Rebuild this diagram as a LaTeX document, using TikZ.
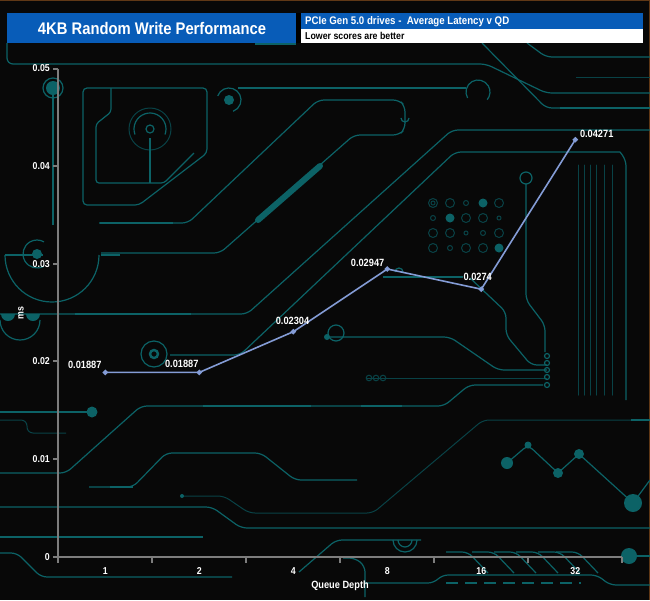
\documentclass[tikz,border=0pt]{standalone}
\usepackage{fontspec}
\setmainfont{Liberation Sans}[FakeStretch=0.88]
\usetikzlibrary{positioning,shapes.geometric}

\definecolor{boardblack}{RGB}{8,8,8}
\definecolor{tracecol}{RGB}{12,98,102}
\definecolor{tracedim}{RGB}{9,66,70}
\definecolor{titleblue}{RGB}{8,92,184}
\definecolor{axisgray}{RGB}{125,125,125}
\definecolor{lineblue}{RGB}{132,156,214}
\definecolor{framebrown}{RGB}{96,56,22}

\tikzset{
    pcb/.style={draw=tracecol, line width=1.2pt, rounded corners=6pt},
    pcbdim/.style={draw=tracedim, line width=1pt, rounded corners=6pt},
    pcbthick/.style={draw=tracecol, line width=2.6pt},
    axisline/.style={draw=axisgray, line width=2pt},
    ticklbl/.style={text=white, inner sep=0pt, font=\bfseries\fontsize{10}{12}\selectfont},
    datalbl/.style={text=white, inner sep=0pt, font=\bfseries\fontsize{10.5}{12}\selectfont},
    datapt/.style={diamond, fill=lineblue, inner sep=0pt, minimum size=6pt},
    seriesline/.style={draw=lineblue, line width=1.6pt}
}

\begin{document}
\begin{tikzpicture}[x=1pt, y=-1pt]
    \useasboundingbox (0,0) rectangle (650,600);
    \fill[boardblack] (0,0) rectangle (650,600);
    \draw[framebrown, line width=1pt] (0,0.5) -- (649.5,0.5) -- (649.5,600);

    % circuit board background
    \draw[pcb] (7,43) -- (7,64) -- (486,64) -- (546,93) -- (650,93);
    \draw[pcb] (482,43) -- (546,108) -- (650,108);
    \draw[pcbthick] (560,108) -- (650,108);
    \draw[pcb] (527,43) -- (546,57) -- (650,57);
    \draw[pcbdim] (576,77) -- (650,77);
    \draw[pcb] (255,44) -- (296,44);
    \draw[pcb, rounded corners=4pt] (83,88) -- (207,88) -- (207,153) -- (139,205) -- (83,205) -- cycle;
    \draw[pcb, rounded corners=3pt] (111,88) -- (111,112) -- (96,124) -- (96,183) -- (164,183) -- (194,153);
    \draw[pcb] (150,129) circle (4);
    \draw[pcb] (150,129) ++(160:16) arc (160:380:16);
    \draw[pcbdim] (150,129) circle (21);
    \draw[pcb] (150,138) -- (150,183);
    \fill[tracecol] (229,100) circle (5);
    \draw[pcb] (229,100) ++(200:12) arc (200:430:12);
    \draw[pcb] (238,88) -- (466,88);
    \draw[pcb] (478,92) ++(150:12) arc (150:400:12);
    \draw[pcb] (99,223) -- (188,223) -- (318,100) -- (399,100) -- (405,106) -- (405,129) -- (399,135) -- (354,135) -- (220,253) -- (101,253);
    \draw[pcb] (401,118) arc (180:0:4);
    \draw[pcbthick] (100,223) -- (173,223);
    \draw[tracecol, line width=6pt, line cap=round] (258,220) -- (320,166);
    \draw[pcb] (101,255) -- (120,255);
    \draw[pcb] (5,255) -- (43,255);
    \draw[pcb] (5,255) arc (180:0:47);
    \fill[tracecol] (37,254) circle (5);
    \draw[pcb] (37,254) ++(60:14) arc (60:300:14);
    \draw[pcb] (53,93) -- (53,225);
    \draw[pcbthick] (53,190) -- (53,225);
    \draw[pcb] (53,88) circle (10);
    \fill[tracecol] (53,88) circle (7);
    \draw[pcb] (650,130) -- (452,130) -- (247,314) -- (0,314);
    \draw[pcbthick] (75,314) -- (191,314);
    \fill[tracecol] (1,314) arc (180:0:7) -- cycle;
    \fill[tracecol] (26,314) arc (180:0:7) -- cycle;
    \draw[pcb] (0,320) arc (180:0:20);
    \draw[pcb] (620,152) -- (455,152) -- (240,355) -- (170,355);
    \draw[pcb] (154,354) circle (13);
    \draw[tracecol, line width=2.4pt] (154,354) circle (4);
    \draw[pcb] (620,152) -- (626,160) -- (626,400);
    \foreach \bx in {578,584,590,596,604,612}
        \draw[pcbdim, line cap=round] (\bx,165) -- (\bx,395);
    \draw[pcb] (526,178) circle (6);
    \draw[pcb] (526,184) -- (526,300) -- (545,325) -- (545,352);
    \draw[pcb] (470,278) -- (506,312) -- (506,335) -- (531,365) -- (547,365);
    \draw[pcbthick] (383,277) -- (463,277);
    \draw[pcb] (395,272) arc (180:360:4);
    \fill[tracecol] (327,337) circle (3);
    \draw[pcb] (336,333) circle (8);
    \draw[pcb] (327,337) -- (450,337) -- (498,370) -- (547,370);
    \draw[pcbdim] (367,378) -- (547,378);
    \foreach \cy in {356,363,370,377,385}
        \draw[pcb] (547,\cy) circle (2.5);
    \foreach \cx in {369,376,383}
        \draw[pcbdim] (\cx,378) circle (2.8);
    \foreach \cx/\cy in {433/203,450/203,499/203,466/218,483/218,433/233,450/233,499/233,433/248,466/248,483/248}
        \draw[pcbdim] (\cx,\cy) circle (4.5);
    \foreach \cx/\cy in {433/203,499/218,466/233}
        \draw[pcbdim] (\cx,\cy) circle (2);
    \foreach \cx/\cy in {466/203,433/218,483/233,450/248}
        \draw[pcbdim] (\cx,\cy) circle (2.5);
    \foreach \cx/\cy in {483/203,450/218,499/248}
        \fill[tracecol] (\cx,\cy) circle (4.5);
    \draw[pcb] (0,412) -- (92,412);
    \draw[pcbthick] (0,412) -- (33,412);
    \fill[tracecol] (92,412) circle (5.5);
    \draw[pcbdim] (0,420) -- (27,420) -- (27,433) -- (66,433);
    \draw[pcb] (0,473) -- (66,473) -- (141,406) -- (444,406) -- (469,385) -- (543,385);
    \draw[pcbthick] (203,406) -- (311,406);
    \draw[pcbthick] (361,406) -- (402,406);
    \draw[pcb] (89,487) -- (133,487) -- (166,453) -- (261,453) -- (295,480) -- (357,480);
    \draw[pcbthick] (110,487) -- (133,487);
    \draw[pcb] (0,507) -- (212,507) -- (241,528) -- (650,528);
    \draw[pcbdim] (182,496) -- (224,496) -- (249,513) -- (373,513) -- (483,420) -- (650,420);
    \fill[tracecol] (182,496) circle (2);
    \draw[pcbthick] (631,420) -- (650,420);
    \draw[pcb] (0,537) -- (203,537);
    \draw[pcbthick] (0,537) -- (120,537);
    \draw[pcb] (507,463) -- (528,445) -- (558,473) -- (579,454) -- (633,503) -- (650,480);
    \fill[tracecol] (507,463) circle (6);
    \fill[tracecol] (528,445) circle (3.5);
    \fill[tracecol] (558,473) circle (5);
    \fill[tracecol] (579,454) circle (5);
    \fill[tracecol] (633,503) circle (9);
    \draw[pcb] (0,553) -- (17,553) -- (41,577) -- (232,577);
    \draw[pcb] (299,572) -- (336,540) -- (421,540);
    \draw[pcb] (393,540) arc (180:0:12);
    \draw[pcb] (398,540) arc (180:0:7);
    \draw[pcb] (343,558) -- (355,558) -- (365,566) -- (365,597);
    \draw[pcb] (365,583) -- (434,583) -- (442,575) -- (597,575) -- (610,585) -- (650,585);
    \draw[pcb, dash pattern=on 12pt off 7pt] (446,583) -- (581,583);
    \foreach \hx in {446,472,494,516,538,556}
        \draw[pcb] (\hx,552) -- (\hx+22,552) -- (\hx+42,573);
    \draw[pcb] (629,556) -- (650,556);
    \fill[tracecol] (629,556) circle (8);

    % title
    \fill[titleblue] (7,13.3) rectangle (296,42.7);
    \node[text=white, font=\bfseries\fontsize{16.8}{20}\selectfont] (title) at (152,28) {4KB Random Write Performance};
    \fill[black] (296,13.3) rectangle (301,42.7);
    \fill[titleblue] (301,13.3) rectangle (643,28.7);
    \fill[white] (301,28.7) rectangle (643,42.7);
    \node[anchor=west, inner sep=0pt, text=white, font=\bfseries\fontsize{11}{13}\selectfont] (subtitle) at (305,21.5) {PCIe Gen 5.0 drives -\ \ Average Latency v QD};
    \node[anchor=west, inner sep=0pt, text=black, font=\bfseries\fontsize{10}{12}\selectfont] (note) at (305,35.5) {Lower scores are better};

    % axes
    \draw[axisline] (58.3,68.5) -- (58.3,556.7) -- (622.3,556.7);
    \foreach \ty/\tv in {556.7/0, 459.1/0.01, 361.4/0.02, 263.8/0.03, 166.1/0.04, 68.5/0.05} {
        \draw[axisline] (53,\ty) -- (58.3,\ty);
        \node[ticklbl, anchor=east] at (50,\ty) {\tv};
    }
    \foreach \i in {0,...,6}
        \draw[axisline] ({58.3+94*\i},556.7) -- ({58.3+94*\i},562.5);
    \foreach \qd [count=\i from 0] in {1,2,4,8,16,32}
        \node[ticklbl] at ({105.3+94*\i},571) {\qd};
    \node[ticklbl, rotate=90] (ylabel) at (21,313) {ms};
    \node[ticklbl, font=\bfseries\fontsize{10.5}{12}\selectfont] (xlabel) at (340,586) {Queue Depth};

    % series
    \coordinate (p1) at (105.3,372.4);
    \coordinate (p2) at (199.3,372.4);
    \coordinate (p3) at (293.3,331.7);
    \coordinate (p4) at (387.3,269.0);
    \coordinate (p5) at (481.3,289.2);
    \coordinate (p6) at (575.3,139.7);
    \draw[seriesline] (p1) -- (p2) -- (p3) -- (p4) -- (p5) -- (p6);
    \foreach \p in {p1,p2,p3,p4,p5,p6}
        \node[datapt] at (\p) {};
    \node[datalbl] (l1) at ([shift={(-20.5,-7.4)}]p1) {0.01887};
    \node[datalbl] (l2) at ([shift={(-17.5,-8.2)}]p2) {0.01887};
    \node[datalbl] (l3) at ([shift={(-0.8,-11)}]p3) {0.02304};
    \node[datalbl] (l4) at ([shift={(-19.7,-6.3)}]p4) {0.02947};
    \node[datalbl] (l5) at ([shift={(-3.6,-11.9)}]p5) {0.0274};
    \node[datalbl] (l6) at ([shift={(21.4,-6.2)}]p6) {0.04271};
\end{tikzpicture}
\end{document}
